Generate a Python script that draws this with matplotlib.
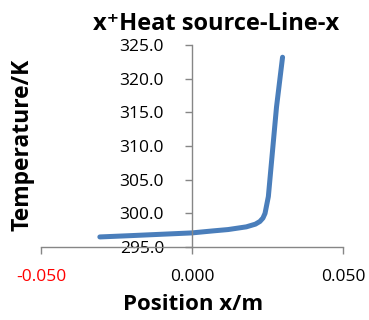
import matplotlib
matplotlib.use("Agg")
import matplotlib.pyplot as plt
from matplotlib.ticker import FormatStrFormatter

# values
position = [-0.0305, -0.02, -0.01, 0.0, 0.007, 0.012, 0.018, 0.021,
            0.0225, 0.0235, 0.0242, 0.0253, 0.028, 0.030]
temperature = [296.5, 296.7, 296.9, 297.1, 297.4, 297.6, 298.0, 298.4,
               298.8, 299.3, 300.0, 302.5, 315.8, 323.2]
x_ticks = [-0.05, 0.0, 0.05]
y_ticks = [295, 300, 305, 310, 315, 320, 325]

plt.rcParams['font.family'] = ['Open Sans', 'DejaVu Sans']

fig = plt.figure(figsize=(3.69, 3.2), dpi=100)
ax = fig.add_axes([0.111, 0.228, 0.8184, 0.631])

ax.plot(position, temperature, color='#4a7ebb', linewidth=3.6,
        solid_capstyle='round', solid_joinstyle='round')

ax.set_xlim(-0.05, 0.05)
ax.set_ylim(295, 325)
ax.set_xticks(x_ticks)
ax.set_yticks(y_ticks)
ax.xaxis.set_major_formatter(FormatStrFormatter('%.3f'))
ax.yaxis.set_major_formatter(FormatStrFormatter('%.1f'))

for side in ['top', 'right']:
    ax.spines[side].set_visible(False)
ax.spines['left'].set_position(('data', 0))
for side in ['left', 'bottom']:
    ax.spines[side].set_color('#868686')
    ax.spines[side].set_linewidth(1)

ax.tick_params(axis='both', colors='#868686', length=5, width=1,
               labelcolor='black', labelsize=12.5)
ax.tick_params(axis='x', pad=11)
ax.tick_params(axis='y', pad=15)
ax.xaxis.get_ticklabels()[0].set_color('red')

fig.text(0.585, 0.906, "x\u207aHeat source-Line-x", fontsize=17,
         fontweight='bold', ha='center', va='baseline')
fig.text(0.522, 0.031, "Position x/m", fontsize=16, fontweight='bold',
         ha='center', va='baseline')
fig.text(0.06, 0.547, "Temperature/K", fontsize=16.5, fontweight='bold',
         rotation=90, ha='center', va='center')

fig.savefig("out.png", dpi=100)
